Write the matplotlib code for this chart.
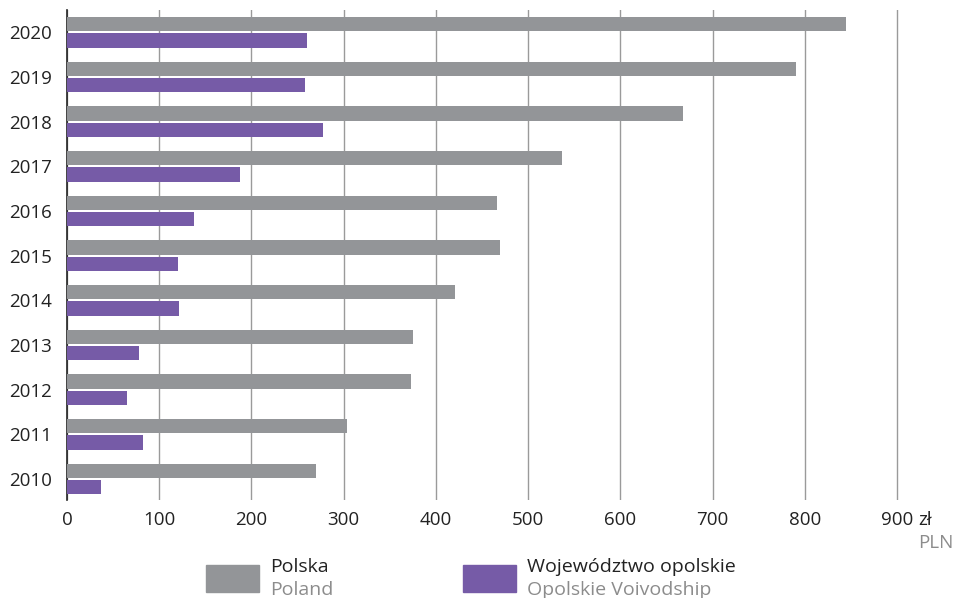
import numpy as np
import matplotlib
matplotlib.use("Agg")
import matplotlib.pyplot as plt
from matplotlib.patches import Rectangle

plt.rcParams['font.family'] = ['Open Sans', 'DejaVu Sans']

years = ['2010', '2011', '2012', '2013', '2014', '2015', '2016', '2017', '2018', '2019', '2020']
polska = [270, 304, 373, 375, 421, 469, 466, 537, 668, 790, 845]
opolskie = [37, 82, 65, 78, 121, 120, 138, 188, 277, 258, 260]
xticks = [0, 100, 200, 300, 400, 500, 600, 700, 800, 900]

gray = '#939598'
purple = '#765ba7'
fs = 13.5

fig = plt.figure(figsize=(9.57, 5.98), dpi=100)
ax = fig.add_axes([67 / 957, 1 - 500 / 598, (900 - 67) / 957, 490 / 598])

y = np.arange(len(years))
h = 0.32
ax.barh(y + 0.18, polska, height=h, color=gray, zorder=3)
ax.barh(y - 0.18, opolskie, height=h, color=purple, zorder=3)

ax.set_xlim(0, 903)
ax.set_ylim(-0.47, 10.5)
ax.set_xticks(xticks)
ax.set_xticklabels([str(t) for t in xticks], fontsize=fs, color='#222222')
ax.set_yticks(y)
ax.set_yticklabels(years, fontsize=fs, color='#222222')
ax.tick_params(axis='both', length=0)
ax.tick_params(axis='x', pad=8)
ax.tick_params(axis='y', pad=11)
ax.grid(axis='x', color='#9a9a9a', linewidth=1, zorder=0)
for s in ['top', 'right', 'bottom']:
    ax.spines[s].set_visible(False)
ax.spines['left'].set_color('#222222')
ax.spines['left'].set_linewidth(1.2)

fig.text(918 / 957, 1 - 520 / 598, 'zł', fontsize=fs, color='#222222', va='center')
fig.text(918 / 957, 1 - 543 / 598, 'PLN', fontsize=fs, color='#8c8c8c', va='center')

# legend
fig.add_artist(Rectangle((206 / 957, 1 - 592 / 598), 53 / 957, 27 / 598,
                         transform=fig.transFigure, color=gray))
fig.text(270 / 957, 1 - 567 / 598, 'Polska', fontsize=14, color='#222222', va='center')
fig.text(270 / 957, 1 - 590 / 598, 'Poland', fontsize=14, color='#8c8c8c', va='center')
fig.add_artist(Rectangle((463 / 957, 1 - 592 / 598), 53 / 957, 27 / 598,
                         transform=fig.transFigure, color=purple))
fig.text(527 / 957, 1 - 567 / 598, 'Województwo opolskie', fontsize=14, color='#222222', va='center')
fig.text(527 / 957, 1 - 590 / 598, 'Opolskie Voivodship', fontsize=14, color='#8c8c8c', va='center')

fig.savefig('out.png', dpi=100)
